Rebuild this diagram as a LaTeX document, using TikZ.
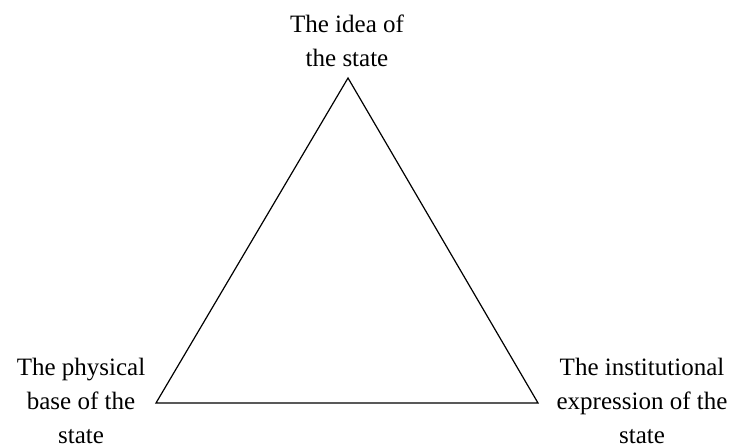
\documentclass[tikz,border=0pt]{standalone}
\usepackage{fontspec}
\setmainfont{Liberation Serif}
\begin{document}
\begin{tikzpicture}[x=1pt,y=1pt,
  lbl/.style={align=center,inner sep=0pt,font=\fontsize{25}{34}\selectfont},
  edge/.style={draw=black,line width=1.2pt,line join=miter}]
\useasboundingbox[fill=white] (0,0) rectangle (735,447);
\coordinate (T) at (348,369);
\coordinate (L) at (156,44);
\coordinate (R) at (538,44);
\node[lbl] (top) at (347,406) {The idea of\\the state};
\node[lbl] (left) at (81,46.5) {The physical\\base of the\\state};
\node[lbl] (right) at (642,46.5) {The institutional\\expression of the\\state};
\draw[edge] (T) -- (L) -- (R) -- cycle;
\end{tikzpicture}
\end{document}
